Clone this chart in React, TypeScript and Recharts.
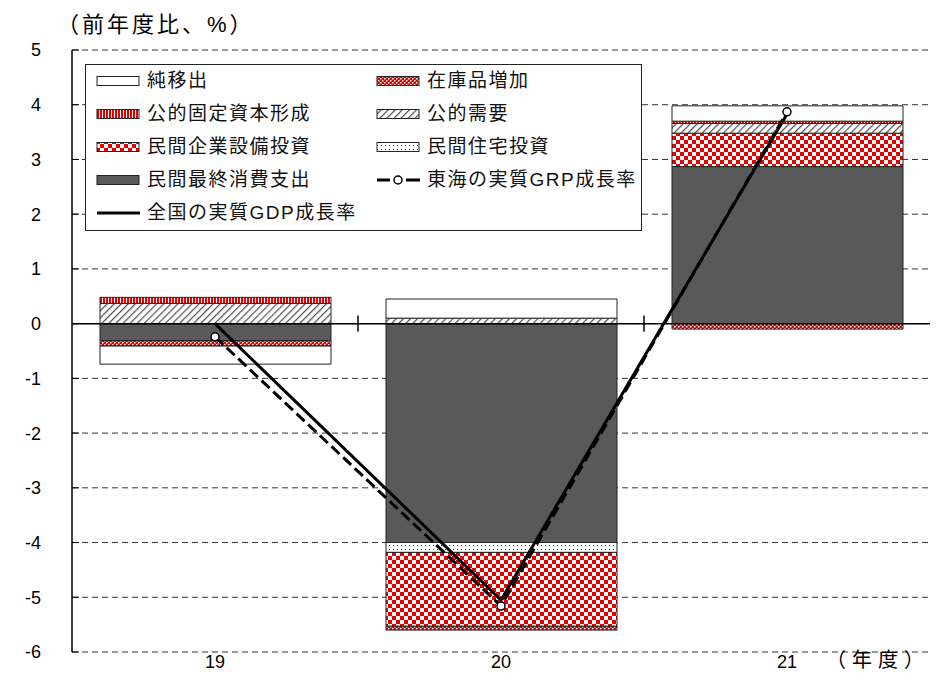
import React from "react";
import {
  ComposedChart,
  Bar,
  Line,
  XAxis,
  YAxis,
  CartesianGrid,
  ReferenceLine,
} from "recharts";

const years = ["19", "20", "21"];
const privateConsumption = [-0.31, -4.0, 2.87];
const privateHousing = [0, -0.18, 0];
const privateCapex = [0, -1.35, 0.61];
const publicDemand = [0.37, 0.1, 0.18];
const publicFixed = [0.11, 0, 0.04];
const inventory = [-0.1, -0.07, -0.1];
const netExports = [-0.33, 0.35, 0.28];
const tokaiGrp = [-0.24, -5.16, 3.87];
const nationalGdp = [0.0, -5.05, 3.83];
const yTicks = [-6, -5, -4, -3, -2, -1, 0, 1, 2, 3, 4, 5];
// small marks on the zero line at the start of these categories
const boundaryYears = ["20", "21"];

const data = years.map((year, i) => ({
  year,
  consumption: privateConsumption[i],
  housing: privateHousing[i],
  capex: privateCapex[i],
  publicDemand: publicDemand[i],
  publicFixed: publicFixed[i],
  inventory: inventory[i],
  netExports: netExports[i],
  grp: tokaiGrp[i],
  gdp: nationalGdp[i],
}));

const RED = "#e60000";
const FONT = "'Liberation Sans', Arial, 'Noto Sans CJK JP', sans-serif";

const Patterns = () => (
  <svg width={0} height={0} style={{ position: "absolute" }}>
    <defs>
      <pattern id="pFixed" width="3" height="3" patternUnits="userSpaceOnUse">
        <rect width="3" height="3" fill={RED} />
        <rect width="1" height="3" fill="#fff" />
      </pattern>
      <pattern id="pInv" width="4" height="4" patternUnits="userSpaceOnUse">
        <rect width="4" height="4" fill={RED} />
        <rect width="1.5" height="1.5" fill="#fff" />
        <rect x="2" y="2" width="1.5" height="1.5" fill="#fff" />
      </pattern>
      <pattern id="pCapex" width="8" height="8" patternUnits="userSpaceOnUse">
        <rect width="8" height="8" fill="#fff" />
        <rect width="4" height="4" fill={RED} />
        <rect x="4" y="4" width="4" height="4" fill={RED} />
      </pattern>
      <pattern
        id="pPublic"
        width="5"
        height="5"
        patternUnits="userSpaceOnUse"
        patternTransform="rotate(45)"
      >
        <rect width="5" height="5" fill="#fff" />
        <line x1="0" y1="0" x2="0" y2="5" stroke="#555" strokeWidth="2.5" />
      </pattern>
      <pattern id="pHousing" width="4" height="4" patternUnits="userSpaceOnUse">
        <rect width="4" height="4" fill="#fff" />
        <rect x="1" y="1" width="1" height="1" fill="#333" />
      </pattern>
    </defs>
  </svg>
);

const YTick = (props: any) => {
  const { x, y, payload } = props;
  return (
    <g>
      <line x1={x} y1={y} x2={x + 7} y2={y} stroke="#000" strokeWidth={1} />
      <text
        x={x - 31}
        y={y}
        dy="0.36em"
        textAnchor="end"
        fill="#000"
        fontSize={18}
        fontFamily={FONT}
      >
        {payload.value}
      </text>
    </g>
  );
};

const leftItems = [
  { label: "純移出", fill: "#fff" },
  { label: "公的固定資本形成", fill: "url(#pFixed)" },
  { label: "民間企業設備投資", fill: "url(#pCapex)" },
  { label: "民間最終消費支出", fill: "#595959" },
  { label: "全国の実質GDP成長率", line: "solid" },
];
const rightItems = [
  { label: "在庫品増加", fill: "url(#pInv)" },
  { label: "公的需要", fill: "url(#pPublic)" },
  { label: "民間住宅投資", fill: "url(#pHousing)" },
  { label: "東海の実質GRP成長率", line: "marker" },
];

const Swatch = ({ item }: { item: any }) => (
  <svg width={45} height={14} style={{ display: "block" }}>
    {item.line === "solid" && (
      <line x1={1} y1={7} x2={44} y2={7} stroke="#000" strokeWidth={3} />
    )}
    {item.line === "marker" && (
      <g>
        <line x1={1} y1={7} x2={14} y2={7} stroke="#000" strokeWidth={3} />
        <line x1={30} y1={7} x2={44} y2={7} stroke="#000" strokeWidth={3} />
        <circle cx={22} cy={7} r={4} fill="#fff" stroke="#000" strokeWidth={1.5} />
      </g>
    )}
    {!item.line && (
      <rect x={1} y={2.5} width={42} height={9} fill={item.fill} stroke="#222" strokeWidth={1} />
    )}
  </svg>
);

const LegendBox = () => {
  const renderCol = (items: any[], left: number) =>
    items.map((item, i) => (
      <div
        key={item.label}
        style={{
          position: "absolute",
          left,
          top: 16 + i * 33 - 7,
          display: "flex",
          alignItems: "center",
          height: 14,
        }}
      >
        <Swatch item={item} />
        <span
          style={{
            marginLeft: 6,
            fontSize: 19,
            letterSpacing: 1.5,
            fontFamily: FONT,
            whiteSpace: "nowrap",
            lineHeight: "14px",
            color: "#111",
          }}
        >
          {item.label}
        </span>
      </div>
    ));
  return (
    <div
      style={{
        position: "absolute",
        left: 85,
        top: 64,
        width: 555,
        height: 165,
        background: "#fff",
        border: "1.5px solid #222",
      }}
    >
      {renderCol(leftItems, 10)}
      {renderCol(rightItems, 290)}
    </div>
  );
};

const barStroke = { stroke: "#222", strokeWidth: 1 };

export default function App() {
  return (
    <div style={{ position: "absolute", left: 0, top: 0, width: 936, height: 699, background: "#fff" }}>
      <Patterns />
      <ComposedChart
        width={936}
        height={699}
        data={data}
        stackOffset="sign"
        margin={{ top: 50, right: 6, bottom: 0, left: 0 }}
        barSize={231}
      >
        <CartesianGrid vertical={false} stroke="#333" strokeDasharray="6 4" />
        <XAxis
          dataKey="year"
          height={47}
          axisLine={false}
          tickLine={false}
          tickSize={0}
          tickMargin={3}
          tick={{ fill: "#000", fontSize: 18, fontFamily: FONT }}
        />
        <YAxis
          width={72}
          domain={[-6, 5]}
          ticks={yTicks}
          interval={0}
          tickSize={0}
          tickMargin={0}
          tickLine={false}
          axisLine={{ stroke: "#000", strokeWidth: 1.5 }}
          tick={<YTick />}
        />
        <Bar dataKey="consumption" stackId="a" fill="#595959" {...barStroke} isAnimationActive={false} />
        <Bar dataKey="housing" stackId="a" fill="url(#pHousing)" {...barStroke} isAnimationActive={false} />
        <Bar dataKey="capex" stackId="a" fill="url(#pCapex)" {...barStroke} isAnimationActive={false} />
        <Bar dataKey="publicDemand" stackId="a" fill="url(#pPublic)" {...barStroke} isAnimationActive={false} />
        <Bar dataKey="publicFixed" stackId="a" fill="url(#pFixed)" {...barStroke} isAnimationActive={false} />
        <Bar dataKey="inventory" stackId="a" fill="url(#pInv)" {...barStroke} isAnimationActive={false} />
        <Bar dataKey="netExports" stackId="a" fill="#fff" {...barStroke} isAnimationActive={false} />
        <ReferenceLine y={0} stroke="#000" strokeWidth={1.5} />
        {boundaryYears.map((yr) => (
          <ReferenceLine
            key={yr}
            segment={[{ x: yr, y: 0.15 }, { x: yr, y: -0.15 }]}
            position="start"
            stroke="#000"
            strokeWidth={1.5}
          />
        ))}
        <Line
          dataKey="gdp"
          stroke="#000"
          strokeWidth={3}
          dot={false}
          isAnimationActive={false}
        />
        <Line
          dataKey="grp"
          stroke="#000"
          strokeWidth={3}
          strokeDasharray="11 5"
          dot={{ r: 4, fill: "#fff", stroke: "#000", strokeWidth: 1.5, strokeDasharray: "" }}
          isAnimationActive={false}
        />
      </ComposedChart>
      <LegendBox />
      <div
        style={{
          position: "absolute",
          left: 57,
          top: 12,
          fontSize: 22,
          letterSpacing: 3,
          fontFamily: FONT,
          lineHeight: "26px",
          whiteSpace: "nowrap",
        }}
      >
        （前年度比、%）
      </div>
      <div
        style={{
          position: "absolute",
          left: 826,
          top: 648,
          fontSize: 20,
          letterSpacing: 6,
          fontFamily: FONT,
          lineHeight: "24px",
          whiteSpace: "nowrap",
        }}
      >
        （年度）
      </div>
    </div>
  );
}
